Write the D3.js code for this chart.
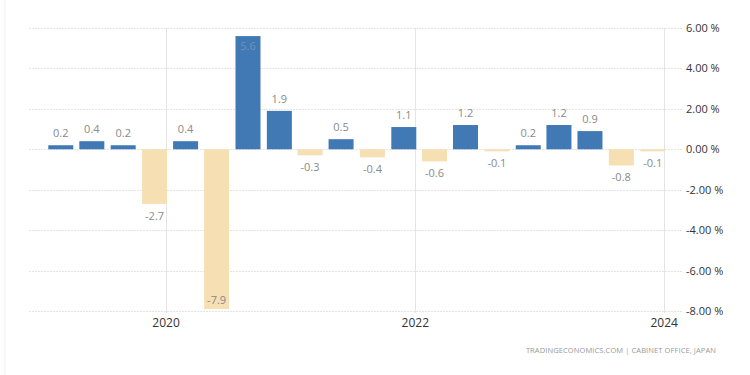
<!DOCTYPE html>
<html>
<head>
<meta charset="utf-8">
<script src="https://cdn.jsdelivr.net/npm/d3@7"></script>
<style>
  body { margin: 0; background: #fff; }
  svg { font-family: "Open Sans", "Noto Sans", sans-serif; }
</style>
</head>
<body>
<div id="chart"></div>
<script>
const WIDTH = 750;
const HEIGHT = 375;

// quarterly GDP growth, Q1 2019 .. Q4 2023
const quarters = [
  "2019-01-01", "2019-04-01", "2019-07-01", "2019-10-01",
  "2020-01-01", "2020-04-01", "2020-07-01", "2020-10-01",
  "2021-01-01", "2021-04-01", "2021-07-01", "2021-10-01",
  "2022-01-01", "2022-04-01", "2022-07-01", "2022-10-01",
  "2023-01-01", "2023-04-01", "2023-07-01", "2023-10-01"
];
const values = [0.2, 0.4, 0.2, -2.7, 0.4, -7.9, 5.6, 1.9, -0.3, 0.5,
  -0.4, 1.1, -0.6, 1.2, -0.1, 0.2, 1.2, 0.9, -0.8, -0.1];
const yearTicks = ["2020-01-01", "2022-01-01", "2024-01-01"];
const yTicks = [6, 4, 2, 0, -2, -4, -6, -8];

const BLUE = "#4079b4";
const BEIGE = "#f5dfb3";

const parse = d3.timeParse("%Y-%m-%d");
let data = quarters.map((q, i) => {
  let start = parse(q);
  return { start: start, end: d3.timeMonth.offset(start, 3), value: values[i] };
});

let svg = d3.select("#chart").append("svg")
  .attr("width", WIDTH)
  .attr("height", HEIGHT);

//faint frame line on the left
svg.append("line")
  .attr("x1", 5).attr("x2", 5).attr("y1", 0).attr("y2", HEIGHT)
  .attr("stroke", "#f0f0f0");

let x = d3.scaleTime()
  .domain([parse("2018-11-25"), parse("2024-03-02")])
  .range([29, 685]);
let y = d3.scaleLinear().domain([-8, 6]).range([311, 28]);

//horizontal grid
svg.append("g").selectAll("line")
  .data(yTicks).enter().append("line")
  .attr("x1", 29).attr("x2", 683)
  .attr("y1", (d) => Math.round(y(d)) + 0.5)
  .attr("y2", (d) => Math.round(y(d)) + 0.5)
  .attr("stroke", "#e4e4e4")
  .attr("stroke-dasharray", "2,1");

//vertical year lines
svg.append("g").selectAll("line")
  .data(yearTicks).enter().append("line")
  .attr("x1", (d) => Math.round(x(parse(d))) + 0.5)
  .attr("x2", (d) => Math.round(x(parse(d))) + 0.5)
  .attr("y1", 28).attr("y2", 313)
  .attr("stroke", "#e4e4e4");

//y labels on the right
svg.append("g").selectAll("text")
  .data(yTicks).enter().append("text")
  .attr("x", 686)
  .attr("y", (d) => y(d) + 4)
  .attr("font-size", 11)
  .attr("fill", "#333")
  .text((d) => d.toFixed(2) + " %");

//year labels
svg.append("g").selectAll("text")
  .data(yearTicks).enter().append("text")
  .attr("x", (d) => x(parse(d)))
  .attr("y", 327)
  .attr("text-anchor", "middle")
  .attr("font-size", 12)
  .attr("fill", "#333")
  .text((d) => d.slice(0, 4));

//bars
const BAR_W = 25;
svg.append("g").selectAll("rect")
  .data(data).enter().append("rect")
  .attr("x", (d) => x(d.end) + 1 - BAR_W)
  .attr("width", BAR_W)
  .attr("y", (d) => y(Math.max(0, d.value)))
  .attr("height", (d) => Math.max(1, Math.abs(y(d.value) - y(0))))
  .attr("fill", (d) => (d.value >= 0 ? BLUE : BEIGE));

//value labels, moved inside the bar if they would leave the plot
svg.append("g").selectAll("text")
  .data(data).enter().append("text")
  .attr("x", (d) => x(d.end) + 1 - BAR_W / 2)
  .attr("y", function (d) {
    if (d.value >= 0) {
      let ty = y(d.value) - 8;
      return ty - 10 < 28 ? y(d.value) + 14 : ty;
    }
    let by = y(d.value) + 16;
    return by > 311 ? y(d.value) - 5 : by;
  })
  .attr("text-anchor", "middle")
  .attr("font-size", 11)
  .attr("fill", function (d) {
    if (d.value >= 0 && y(d.value) - 18 < 28) return "#6f93bd";
    return "#8a8a8a";
  })
  .text((d) => d.value.toFixed(1));

//source
svg.append("text")
  .attr("x", 716)
  .attr("y", 353)
  .attr("text-anchor", "end")
  .attr("font-size", 7.5)
  .attr("letter-spacing", 0.1)
  .attr("fill", "#999")
  .text("TRADINGECONOMICS.COM | CABINET OFFICE, JAPAN");
</script>
</body>
</html>
